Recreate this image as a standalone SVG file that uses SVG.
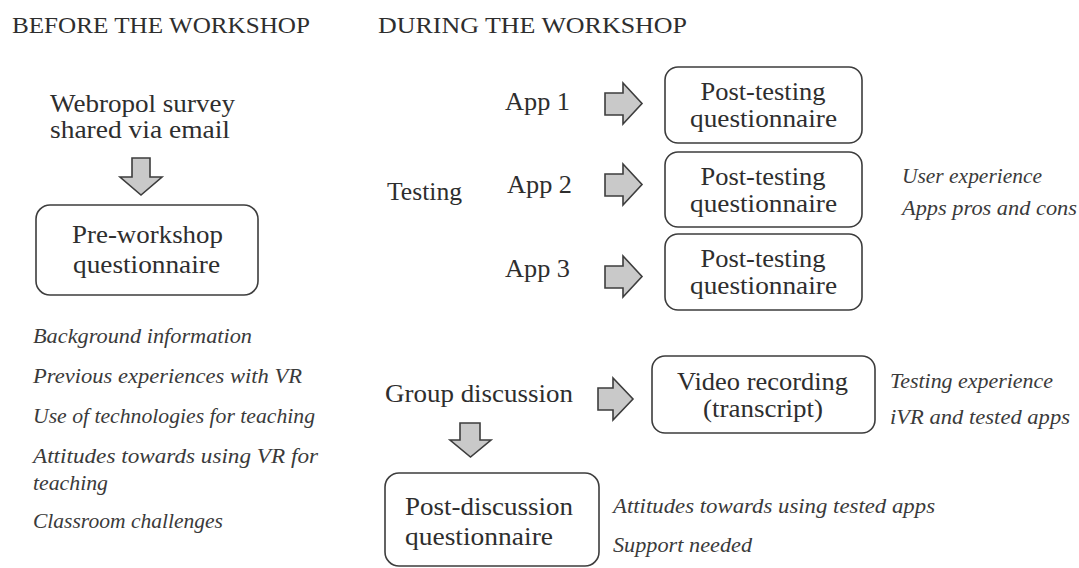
<svg xmlns="http://www.w3.org/2000/svg" width="1079" height="568" viewBox="0 0 1079 568">
<style>
  .bg { fill: #ffffff; }
  .head { font-size: 23px; fill: #2e2e2e; }
  .t { font-size: 25px; fill: #2e2e2e; }
  .c { text-anchor: middle; }
  .it { font-size: 22px; font-style: italic; fill: #3a3a3a; }
  .box { fill: #ffffff; stroke: #3d3d3d; stroke-width: 1.6; }
  .arr { fill: #c9c9c9; stroke: #3d3d3d; stroke-width: 1.6; stroke-linejoin: miter; }
</style>
<rect class="bg" x="0" y="0" width="1079" height="568"/>

<g font-family="Liberation Serif, DejaVu Serif, serif">
<g id="headings">
  <text class="head" x="12" y="33" textLength="298" lengthAdjust="spacingAndGlyphs">BEFORE THE WORKSHOP</text>
  <text class="head" x="378" y="33" textLength="309" lengthAdjust="spacingAndGlyphs">DURING THE WORKSHOP</text>
</g>

<g id="webropol">
  <text class="t" x="50" y="112" textLength="185" lengthAdjust="spacingAndGlyphs">Webropol survey</text>
  <text class="t" x="50" y="138" textLength="180" lengthAdjust="spacingAndGlyphs">shared via email</text>
</g>

<g id="pre-workshop">
  <rect class="box" x="36" y="205" width="222" height="90" rx="14"/>
  <text class="t" x="72" y="243" textLength="151" lengthAdjust="spacingAndGlyphs">Pre-workshop</text>
  <text class="t" x="73" y="273" textLength="147" lengthAdjust="spacingAndGlyphs">questionnaire</text>
</g>

<g id="pre-topics">
  <text class="it" x="33" y="343" textLength="219" lengthAdjust="spacingAndGlyphs">Background information</text>
  <text class="it" x="33" y="383" textLength="269" lengthAdjust="spacingAndGlyphs">Previous experiences with VR</text>
  <text class="it" x="33" y="423" textLength="282" lengthAdjust="spacingAndGlyphs">Use of technologies for teaching</text>
  <text class="it" x="33" y="463" textLength="285" lengthAdjust="spacingAndGlyphs">Attitudes towards using VR for</text>
  <text class="it" x="33" y="490" textLength="75" lengthAdjust="spacingAndGlyphs">teaching</text>
  <text class="it" x="33" y="528" textLength="190" lengthAdjust="spacingAndGlyphs">Classroom challenges</text>
</g>

<g id="testing">
  <text class="t" x="387" y="200" textLength="75" lengthAdjust="spacingAndGlyphs">Testing</text>
</g>

<g id="app1">
  <text class="t" x="505" y="110" textLength="65" lengthAdjust="spacingAndGlyphs">App 1</text>
</g>
<g id="app2">
  <text class="t" x="507" y="193" textLength="65" lengthAdjust="spacingAndGlyphs">App 2</text>
</g>
<g id="app3">
  <text class="t" x="505" y="277" textLength="65" lengthAdjust="spacingAndGlyphs">App 3</text>
</g>

<g id="post-testing-1">
  <rect class="box" x="665" y="67" width="197" height="76" rx="13"/>
  <text class="t c" x="763" y="100" textLength="125" lengthAdjust="spacingAndGlyphs">Post-testing</text>
  <text class="t c" x="763.5" y="127" textLength="147" lengthAdjust="spacingAndGlyphs">questionnaire</text>
</g>
<g id="post-testing-2">
  <rect class="box" x="665" y="152" width="197" height="75" rx="13"/>
  <text class="t c" x="763" y="185" textLength="125" lengthAdjust="spacingAndGlyphs">Post-testing</text>
  <text class="t c" x="763.5" y="212" textLength="147" lengthAdjust="spacingAndGlyphs">questionnaire</text>
</g>
<g id="post-testing-3">
  <rect class="box" x="665" y="234" width="197" height="76" rx="13"/>
  <text class="t c" x="763" y="267" textLength="125" lengthAdjust="spacingAndGlyphs">Post-testing</text>
  <text class="t c" x="763.5" y="294" textLength="147" lengthAdjust="spacingAndGlyphs">questionnaire</text>
</g>

<g id="testing-topics">
  <text class="it" x="902" y="183" textLength="140" lengthAdjust="spacingAndGlyphs">User experience</text>
  <text class="it" x="902" y="215" textLength="175" lengthAdjust="spacingAndGlyphs">Apps pros and cons</text>
</g>

<g id="group-discussion">
  <text class="t" x="385" y="402" textLength="188" lengthAdjust="spacingAndGlyphs">Group discussion</text>
</g>

<g id="video-recording">
  <rect class="box" x="652" y="356" width="223" height="77" rx="13"/>
  <text class="t c" x="762.5" y="390" textLength="171" lengthAdjust="spacingAndGlyphs">Video recording</text>
  <text class="t c" x="763" y="417" textLength="120" lengthAdjust="spacingAndGlyphs">(transcript)</text>
</g>

<g id="video-topics">
  <text class="it" x="890" y="388" textLength="163" lengthAdjust="spacingAndGlyphs">Testing experience</text>
  <text class="it" x="890" y="424" textLength="180" lengthAdjust="spacingAndGlyphs">iVR and tested apps</text>
</g>

<g id="post-discussion">
  <rect class="box" x="385" y="473" width="214" height="93" rx="14"/>
  <text class="t" x="405" y="515" textLength="168" lengthAdjust="spacingAndGlyphs">Post-discussion</text>
  <text class="t" x="405" y="545" textLength="148" lengthAdjust="spacingAndGlyphs">questionnaire</text>
</g>

<g id="discussion-topics">
  <text class="it" x="613" y="513" textLength="322" lengthAdjust="spacingAndGlyphs">Attitudes towards using tested apps</text>
  <text class="it" x="613" y="552" textLength="139" lengthAdjust="spacingAndGlyphs">Support needed</text>
</g>
</g>

<g id="connectors">
  <path class="arr" d="M132,158 H150 V177 H162 L141,195 L120,177 H132 Z"/>
  <path class="arr" d="M605,93 H623 V83 L642,103.5 L623,124 V115 H605 Z"/>
  <path class="arr" d="M605,174 H623 V164 L642,184.5 L623,205 V196 H605 Z"/>
  <path class="arr" d="M605,266 H623 V256 L642,276.5 L623,297 V288 H605 Z"/>
  <path class="arr" d="M598,388 H613 V378 L633,399 L613,420 V410 H598 Z"/>
  <path class="arr" d="M460,423 H480 V440 H491 L470.5,457 L450,440 H460 Z"/>
</g>
</svg>
